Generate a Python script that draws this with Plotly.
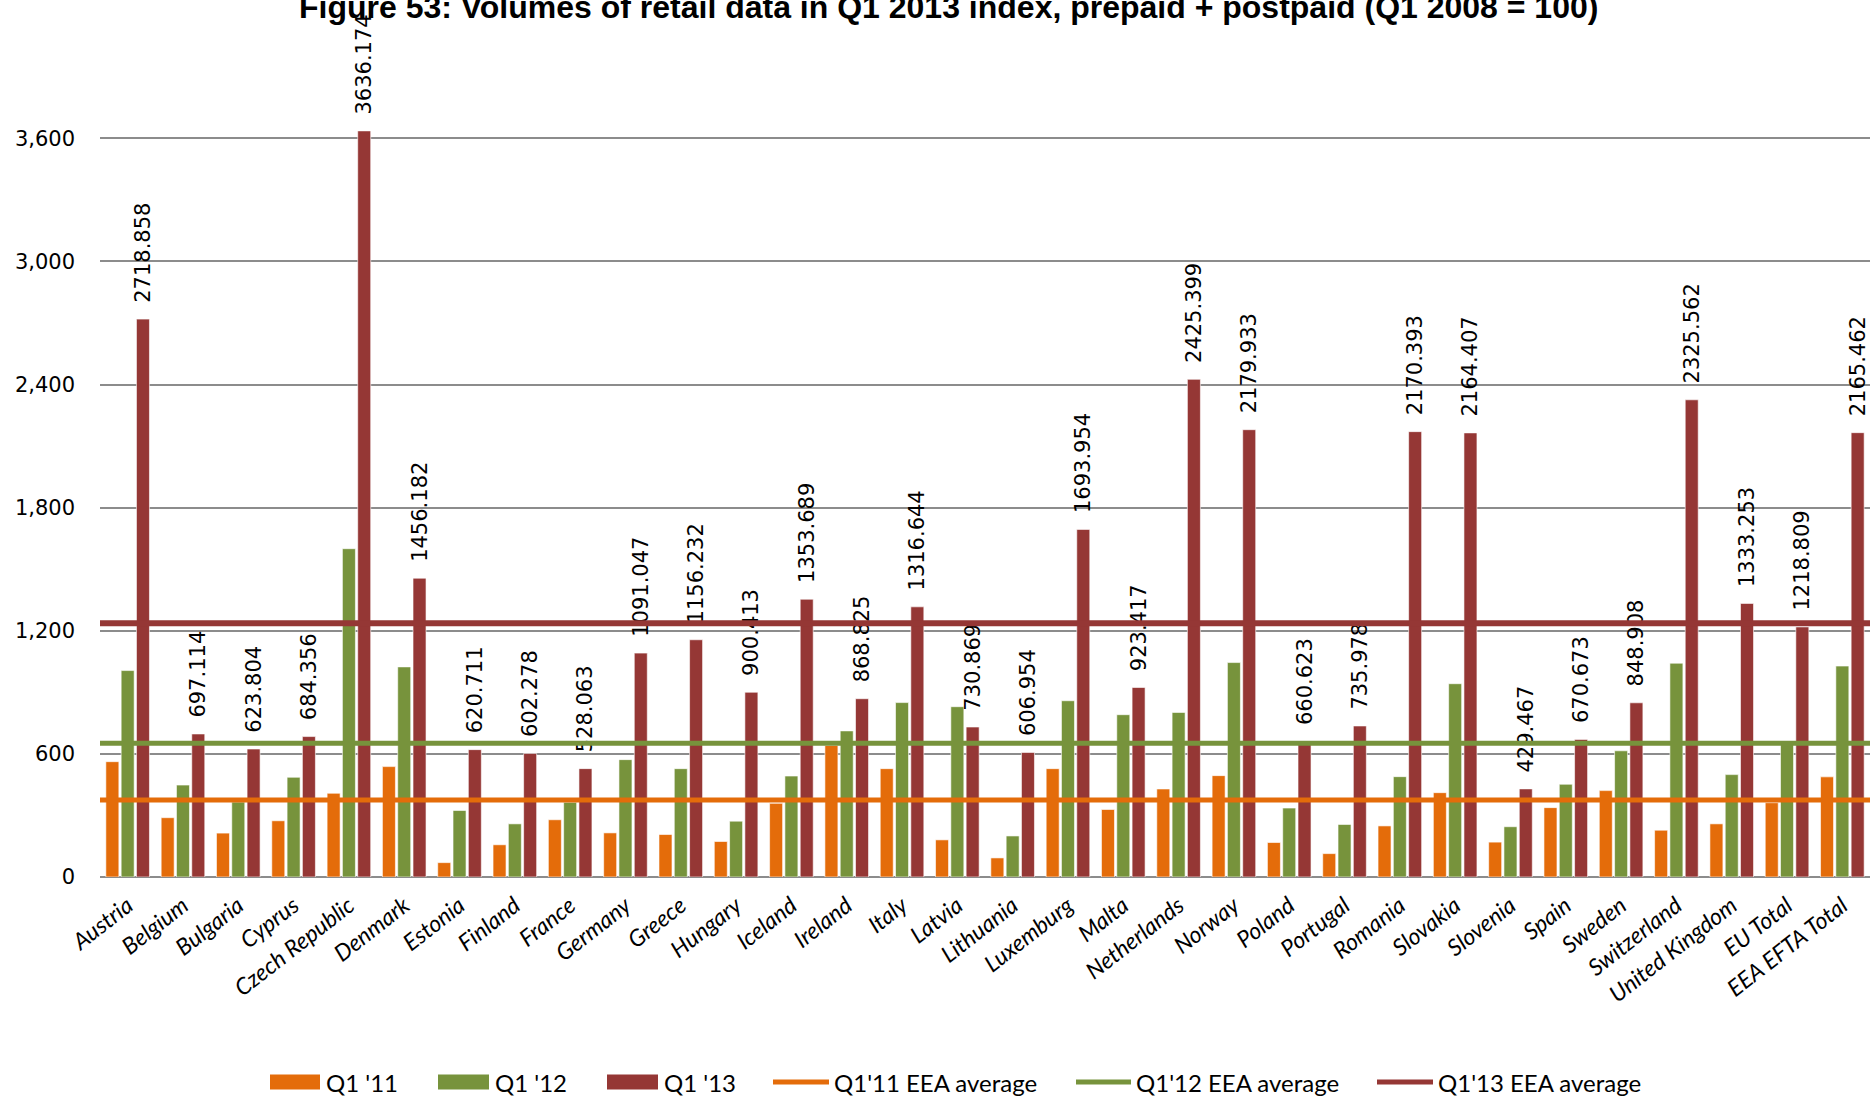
import plotly.graph_objects as go

# Retail data volume index by country (Q1 2008 = 100), prepaid + postpaid
categories = [
    "Austria", "Belgium", "Bulgaria", "Cyprus", "Czech Republic", "Denmark",
    "Estonia", "Finland", "France", "Germany", "Greece", "Hungary", "Iceland",
    "Ireland", "Italy", "Latvia", "Lithuania", "Luxemburg", "Malta",
    "Netherlands", "Norway", "Poland", "Portugal", "Romania", "Slovakia",
    "Slovenia", "Spain", "Sweden", "Switzerland", "United Kingdom",
    "EU Total", "EEA EFTA Total",
]

q1_11 = [562, 289, 214, 274, 408, 538, 70, 157, 279, 215, 207, 173, 359,
         641, 528, 181, 93, 528, 329, 429, 494, 168, 114, 249, 411, 170,
         338, 421, 228, 259, 362, 488]

q1_12 = [1006, 448, 365, 486, 1600, 1024, 324, 259, 364, 572, 528, 272, 492,
         712, 850, 830, 200, 859, 791, 802, 1045, 336, 256, 489, 942, 245,
         452, 615, 1042, 499, 650, 1028]

q1_13 = [2718.858, 697.114, 623.804, 684.356, 3636.174, 1456.182, 620.711,
         602.278, 528.063, 1091.047, 1156.232, 900.413, 1353.689, 868.825,
         1316.644, 730.869, 606.954, 1693.954, 923.417, 2425.399, 2179.933,
         660.623, 735.978, 2170.393, 2164.407, 429.467, 670.673, 848.908,
         2325.562, 1333.253, 1218.809, 2165.462]

# EEA averages per quarter
avg_q1_11 = 375
avg_q1_12 = 652
avg_q1_13 = 1237

series_names = ["Q1 '11", "Q1 '12", "Q1 '13"]
avg_names = ["Q1'11 EEA average", "Q1'12 EEA average", "Q1'13 EEA average"]
y_ticks = [0, 600, 1200, 1800, 2400, 3000, 3600]

ORANGE = "#E46C0A"
GREEN = "#77933C"
RED = "#953735"
GRID = "#8C8C8C"

W, H = 1870, 1096
M_L, M_R, M_T, M_B = 100, 0, 0, 219
PLOT_W = W - M_L - M_R
PLOT_H = H - M_T - M_B
Y_MAX = 4274


def px_x(px):
    """Page pixel x -> paper fraction."""
    return (px - M_L) / PLOT_W


def px_y(py):
    """Page pixel y -> paper fraction."""
    return (H - M_B - py) / PLOT_H


fig = go.Figure()

bar_line = dict(color="rgba(255,255,255,0.75)", width=0.8)
fig.add_trace(go.Bar(x=categories, y=q1_11, name=series_names[0],
                     marker=dict(color=ORANGE, line=bar_line)))
fig.add_trace(go.Bar(x=categories, y=q1_12, name=series_names[1],
                     marker=dict(color=GREEN, line=bar_line)))
fig.add_trace(go.Bar(
    x=categories, y=q1_13, name=series_names[2],
    marker=dict(color=RED, line=bar_line),
    text=["\u00a0\u00a0" + f"{v:.3f}" for v in q1_13],
    textposition="outside", textangle=-90, constraintext="none",
    cliponaxis=False,
    textfont=dict(family="DejaVu Sans", size=21, color="#000000"),
))

# EEA average lines across the full plot width
for val, col, w in [(avg_q1_11, ORANGE, 5), (avg_q1_12, GREEN, 5),
                    (avg_q1_13, RED, 6)]:
    fig.add_shape(type="line", xref="paper", yref="y", x0=0, x1=1,
                  y0=val, y1=val, line=dict(color=col, width=w),
                  layer="above")

# Legend row along the bottom
LEG_Y = 1082
legend_items = [
    ("rect", ORANGE, 270, 320, 324, series_names[0]),
    ("rect", GREEN, 438, 489, 493, series_names[1]),
    ("rect", RED, 607, 658, 662, series_names[2]),
    ("line", ORANGE, 773, 829, 832, avg_names[0]),
    ("line", GREEN, 1076, 1131, 1134, avg_names[1]),
    ("line", RED, 1377, 1433, 1436, avg_names[2]),
]
for kind, col, xa, xb, xt, label in legend_items:
    if kind == "rect":
        fig.add_shape(type="rect", xref="paper", yref="paper",
                      x0=px_x(xa), x1=px_x(xb),
                      y0=px_y(LEG_Y + 7.5), y1=px_y(LEG_Y - 7.5),
                      fillcolor=col, line=dict(width=0))
    else:
        fig.add_shape(type="line", xref="paper", yref="paper",
                      x0=px_x(xa), x1=px_x(xb),
                      y0=px_y(LEG_Y), y1=px_y(LEG_Y),
                      line=dict(color=col, width=5))
    fig.add_annotation(xref="paper", yref="paper", x=px_x(xt),
                       y=px_y(LEG_Y), xanchor="left", yanchor="middle",
                       text=label, showarrow=False,
                       font=dict(family="Lato", size=24, color="#000000"))

# Chart title at the top edge
fig.add_annotation(
    xref="paper", yref="paper", x=px_x(948), y=1, xanchor="center",
    yanchor="top", yshift=13, showarrow=False,
    text="<b>Figure 53: Volumes of retail data in Q1 2013 index, prepaid + postpaid (Q1 2008 = 100)</b>",
    font=dict(family="Liberation Sans", size=32, color="#000000"),
)

fig.update_layout(
    width=W, height=H,
    margin=dict(l=M_L, r=M_R, t=M_T, b=M_B, pad=0),
    paper_bgcolor="white", plot_bgcolor="white",
    barmode="group", bargap=0.17, bargroupgap=0.15,
    showlegend=False,
    xaxis=dict(
        tickangle=-38, showgrid=False, showline=False, ticks="",
        ticklabelstandoff=10,
        tickfont=dict(family="Lato", size=23, style="italic", color="#000000"),
    ),
    yaxis=dict(
        range=[0, Y_MAX], tickvals=y_ticks, tickformat=",d",
        showgrid=True, gridcolor=GRID, gridwidth=2,
        zeroline=True, zerolinecolor=GRID, zerolinewidth=2,
        showline=False, ticks="", ticklabelstandoff=24,
        tickfont=dict(family="DejaVu Sans", size=21, color="#000000"),
    ),
)

fig.write_html("out.html")
